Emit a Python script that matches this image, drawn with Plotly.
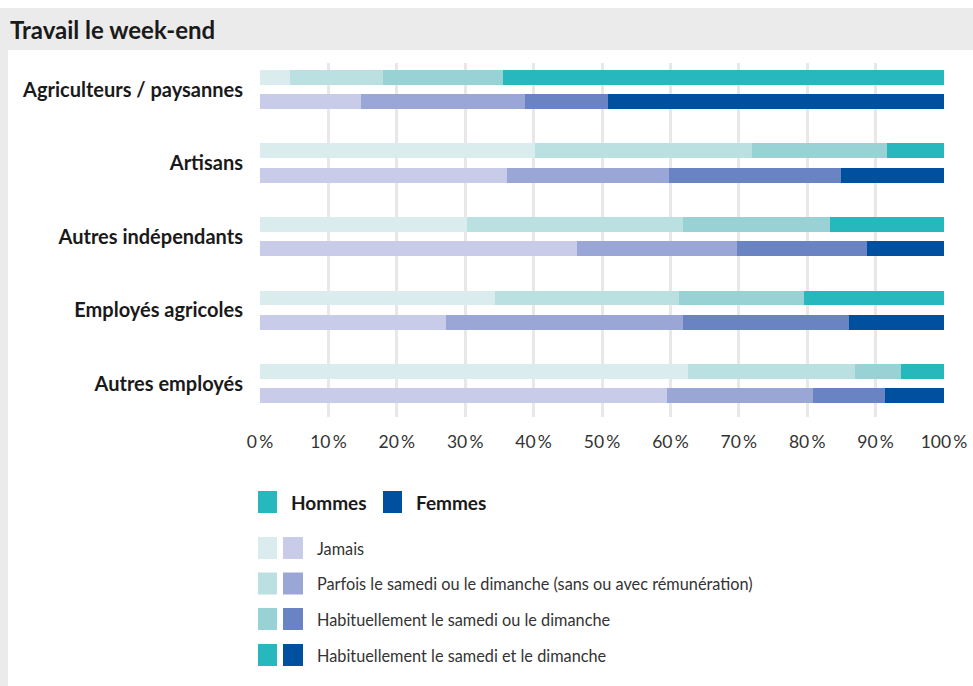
import plotly.graph_objects as go

categories = ["Agriculteurs / paysannes", "Artisans", "Autres indépendants",
              "Employés agricoles", "Autres employés"]
levels = ["Jamais",
          "Parfois le samedi ou le dimanche (sans ou avec rémunération)",
          "Habituellement le samedi ou le dimanche",
          "Habituellement le samedi et le dimanche"]

hommes_jamais = [4.4, 40.2, 30.2, 34.4, 62.5]
hommes_parfois = [13.6, 31.7, 31.6, 26.9, 24.5]
hommes_habit_ou = [17.5, 19.8, 21.6, 18.3, 6.7]
hommes_habit_et = [64.5, 8.3, 16.6, 20.4, 6.3]

femmes_jamais = [14.8, 36.1, 46.4, 27.2, 59.5]
femmes_parfois = [23.9, 23.7, 23.4, 34.6, 21.3]
femmes_habit_ou = [12.2, 25.1, 19.0, 24.3, 10.6]
femmes_habit_et = [49.1, 15.1, 11.2, 13.9, 8.6]

x_ticks = [0, 10, 20, 30, 40, 50, 60, 70, 80, 90, 100]
x_tick_labels = [f"{v}\u2009%" for v in x_ticks]

hommes_colors = ["#daeced", "#bae0e1", "#99d2d4", "#27b8bd"]
femmes_colors = ["#c8cce9", "#9aa7d6", "#6a83c2", "#0050a0"]

FONT = "Lato"
W, H = 973, 686
L, R, T, B = 260, 944, 63, 417


def px(x):
    return (x - L) / (R - L)


def py(y):
    return (B - y) / (B - T)


fig = go.Figure()

offset = 0.166
bar_w = 0.204
idx = list(range(len(categories)))

hommes = [hommes_jamais, hommes_parfois, hommes_habit_ou, hommes_habit_et]
femmes = [femmes_jamais, femmes_parfois, femmes_habit_ou, femmes_habit_et]

for k, vals in enumerate(hommes):
    fig.add_trace(go.Bar(orientation="h", x=vals, y=[i - offset for i in idx],
                         width=bar_w, marker=dict(color=hommes_colors[k], line=dict(width=0)),
                         name="Hommes – " + levels[k], showlegend=False))
for k, vals in enumerate(femmes):
    fig.add_trace(go.Bar(orientation="h", x=vals, y=[i + offset for i in idx],
                         width=bar_w, marker=dict(color=femmes_colors[k], line=dict(width=0)),
                         name="Femmes – " + levels[k], showlegend=False))

shapes = []
annotations = []
GREY = "#ebebeb"
shapes.append(dict(type="rect", xref="paper", yref="paper", x0=px(0), x1=px(W),
                   y0=py(50), y1=py(8), fillcolor=GREY, line=dict(width=0), layer="below"))
shapes.append(dict(type="rect", xref="paper", yref="paper", x0=px(0), x1=px(8),
                   y0=py(H), y1=py(50), fillcolor=GREY, line=dict(width=0), layer="below"))

annotations.append(dict(text="<b>Travail le week-end</b>", xref="paper", yref="paper",
                        x=px(8), y=py(29), xanchor="left", yanchor="middle", showarrow=False,
                        font=dict(family=FONT, size=24, color="#1a1a1a")))

for x0, color, label in [(258, hommes_colors[3], "Hommes"), (383, femmes_colors[3], "Femmes")]:
    shapes.append(dict(type="rect", xref="paper", yref="paper", x0=px(x0), x1=px(x0 + 19),
                       y0=py(513), y1=py(491), fillcolor=color, line=dict(width=0)))
    annotations.append(dict(text="<b>" + label + "</b>", xref="paper", yref="paper",
                            x=px(x0 + 31), y=py(502), xanchor="left", yanchor="middle",
                            showarrow=False, font=dict(family=FONT, size=19, color="#1a1a1a")))

row_y = [548, 583.5, 619, 655]
for k, lab in enumerate(levels):
    yc = row_y[k]
    shapes.append(dict(type="rect", xref="paper", yref="paper", x0=px(258), x1=px(277),
                       y0=py(yc + 11), y1=py(yc - 11), fillcolor=hommes_colors[k], line=dict(width=0)))
    shapes.append(dict(type="rect", xref="paper", yref="paper", x0=px(283), x1=px(303),
                       y0=py(yc + 11), y1=py(yc - 11), fillcolor=femmes_colors[k], line=dict(width=0)))
    annotations.append(dict(text=lab, xref="paper", yref="paper", x=px(315), y=py(yc),
                            xanchor="left", yanchor="middle", showarrow=False,
                            font=dict(family=FONT, size=16.3, color="#333333")))

fig.update_layout(
    width=W, height=H,
    margin=dict(l=L, r=W - R, t=T, b=H - B, pad=0, autoexpand=False),
    barmode="stack",
    paper_bgcolor="white", plot_bgcolor="white",
    font=dict(family=FONT, color="#333333"),
    shapes=shapes, annotations=annotations,
    showlegend=False,
    xaxis=dict(range=[0, 100], tickmode="array", tickvals=x_ticks, ticktext=x_tick_labels,
               showgrid=True, gridcolor="#e8e8e8", gridwidth=2.5, zeroline=False,
               showline=False, ticks="", ticklabelstandoff=12, automargin=False,
               tickfont=dict(family=FONT, size=17.5, color="#333333"), fixedrange=True),
    yaxis=dict(range=[4.453, -0.363], tickvals=idx,
               ticktext=["<b>" + c + "</b>" for c in categories],
               showgrid=False, zeroline=False, showline=False, ticks="",
               ticklabelstandoff=16, automargin=False,
               tickfont=dict(family=FONT, size=20, color="#1a1a1a"), fixedrange=True),
)

fig.write_html("out.html")
